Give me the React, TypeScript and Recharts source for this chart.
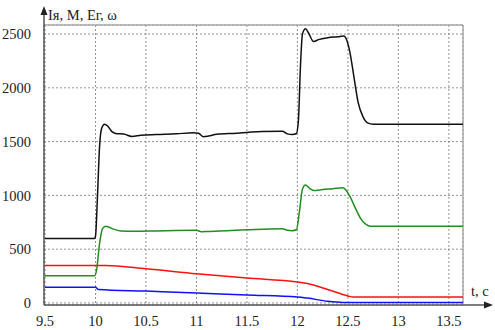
import React from 'react';
import { LineChart, Line, XAxis, YAxis, CartesianGrid, ReferenceLine } from 'recharts';

const xTicks = [9.5, 10, 10.5, 11, 11.5, 12, 12.5, 13, 13.5];
const yTicks = [0, 500, 1000, 1500, 2000, 2500];
const X_MIN = 9.49;
const X_MAX = 13.64;
const Y_MIN = -19;
const Y_MAX = 2584;

const blackPts: [number, number][] = [
  [9.5, 600], [9.99, 600], [10.0, 620], [10.02, 1000], [10.04, 1450], [10.06, 1620], [10.09, 1662],
  [10.12, 1645], [10.16, 1595], [10.2, 1575], [10.28, 1570], [10.36, 1548], [10.45, 1558], [10.6, 1565],
  [10.8, 1572], [10.97, 1582], [11.02, 1578], [11.07, 1546], [11.12, 1552], [11.2, 1568], [11.4, 1578],
  [11.5, 1585], [11.65, 1595], [11.85, 1596], [11.9, 1572], [11.95, 1565], [11.99, 1575], [12.01, 1700],
  [12.03, 2200], [12.05, 2500], [12.08, 2548], [12.11, 2510], [12.16, 2430], [12.21, 2448], [12.3, 2465],
  [12.4, 2475], [12.46, 2482], [12.49, 2440], [12.52, 2330], [12.56, 2100], [12.6, 1870], [12.65, 1730],
  [12.7, 1672], [12.75, 1662], [13.64, 1662],
];

const greenPts: [number, number][] = [
  [9.5, 252], [9.99, 252], [10.01, 300], [10.04, 550], [10.07, 690], [10.1, 714], [10.13, 706],
  [10.18, 686], [10.25, 670], [10.4, 666], [10.6, 670], [11.0, 676], [11.05, 662], [11.1, 665],
  [11.3, 672], [11.5, 680], [11.85, 690], [11.9, 676], [11.95, 672], [11.99, 680], [12.02, 850],
  [12.05, 1060], [12.08, 1096], [12.12, 1066], [12.16, 1046], [12.25, 1055], [12.35, 1062],
  [12.45, 1070], [12.48, 1050], [12.52, 990], [12.58, 870], [12.63, 780], [12.68, 730], [12.72, 712],
  [13.64, 712],
];

const redPts: [number, number][] = [
  [9.5, 348], [10.1, 348], [10.5, 318], [11.0, 272], [11.5, 232], [12.0, 195], [12.1, 180],
  [12.3, 125], [12.5, 65], [12.55, 55], [13.64, 55],
];

const bluePts: [number, number][] = [
  [9.5, 145], [10.0, 145], [10.03, 125], [10.5, 110], [11.0, 93], [11.5, 74], [12.0, 56],
  [12.1, 45], [12.3, 15], [12.45, 5], [13.64, 5],
];

const toData = (pts: [number, number][]) => pts.map(([t, v]) => ({ t, v }));

const FONT = 'Liberation Serif';

const XArrow = (p: any) => {
  const y = p.y1;
  const x0 = Math.min(p.x1, p.x2);
  const xe = Math.max(p.x1, p.x2) + 30;
  return (
    <g>
      <line x1={x0} y1={y} x2={xe - 6} y2={y} stroke="#555" strokeWidth={1.5} />
      <path d={`M${xe - 9},${y - 3.5} L${xe},${y} L${xe - 9},${y + 3.5} Z`} fill="#222" />
      <text x={xe - 22} y={y - 9} fill="#222" fontSize={14.5} fontFamily={FONT}>t, c</text>
    </g>
  );
};

const YArrow = (p: any) => {
  const x = p.x1;
  const y0 = Math.max(p.y1, p.y2);
  const ye = Math.min(p.y1, p.y2) - 19;
  return (
    <g>
      <line x1={x} y1={y0} x2={x} y2={ye + 6} stroke="#555" strokeWidth={1.5} />
      <path d={`M${x - 3.5},${ye + 9} L${x},${ye} L${x + 3.5},${ye + 9} Z`} fill="#222" />
      <text x={x + 4} y={ye + 14} fill="#222" fontSize={14.5} fontFamily={FONT}>Iя, M,  Ег, ω</text>
    </g>
  );
};

export default function App() {
  return (
    <div style={{ position: 'absolute', left: 0, top: 0 }}>
      <LineChart width={495} height={330} margin={{ top: 25, right: 32, bottom: 0, left: 0 }}>
        <CartesianGrid stroke="#777" strokeDasharray="2 2" strokeWidth={0.8} />
        <XAxis
          type="number"
          dataKey="t"
          domain={[X_MIN, X_MAX]}
          ticks={xTicks}
          allowDataOverflow
          height={25}
          tickLine={false}
          tickMargin={5}
          axisLine={false}
          tick={{ fill: '#222', fontSize: 14.5, fontFamily: FONT }}
        />
        <YAxis
          type="number"
          domain={[Y_MIN, Y_MAX]}
          ticks={yTicks}
          allowDataOverflow
          width={44}
          tickLine={false}
          tickMargin={7}
          axisLine={false}
          tick={{ fill: '#222', fontSize: 14.5, fontFamily: FONT }}
        />
        <ReferenceLine y={Y_MAX} stroke="#aaa" strokeWidth={1.5} />
        <ReferenceLine x={X_MAX} stroke="#aaa" strokeWidth={1.5} />
        <ReferenceLine y={Y_MIN} shape={XArrow} ifOverflow="visible" />
        <ReferenceLine x={X_MIN} shape={YArrow} ifOverflow="visible" />
        <Line data={toData(blackPts)} dataKey="v" type="monotone" stroke="#111" strokeWidth={1.5} dot={false} isAnimationActive={false} />
        <Line data={toData(greenPts)} dataKey="v" type="monotone" stroke="#1f8f1f" strokeWidth={1.5} dot={false} isAnimationActive={false} />
        <Line data={toData(redPts)} dataKey="v" type="monotone" stroke="#ff1010" strokeWidth={1.5} dot={false} isAnimationActive={false} />
        <Line data={toData(bluePts)} dataKey="v" type="monotone" stroke="#1010ff" strokeWidth={1.5} dot={false} isAnimationActive={false} />
      </LineChart>
    </div>
  );
}
